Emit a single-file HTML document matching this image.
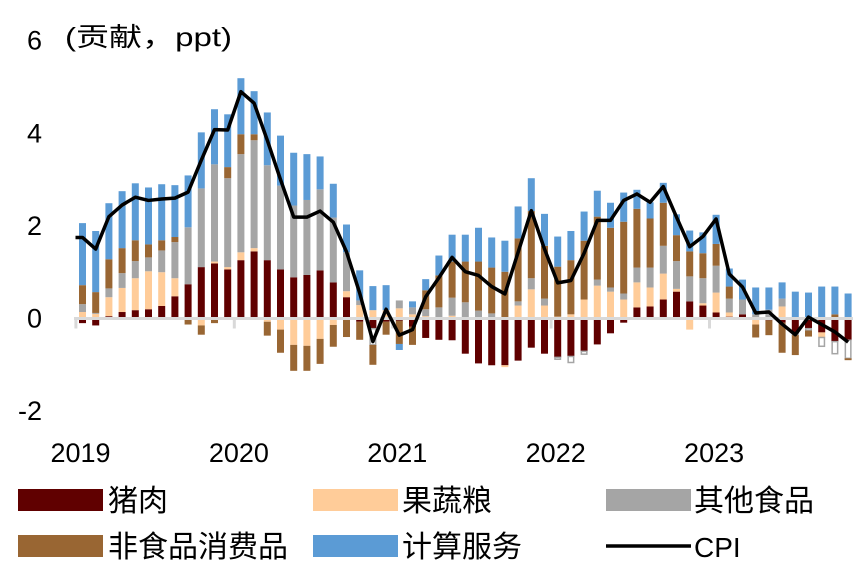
<!DOCTYPE html>
<html><head><meta charset="utf-8"><style>
body{margin:0;background:#fff;}
svg text{font-family:"Liberation Sans","Noto Sans CJK SC",sans-serif;fill:#000;}
</style></head><body>
<svg id="chart" width="865" height="577" viewBox="0 0 865 577" xmlns="http://www.w3.org/2000/svg">
<g id="bars"></g>
<g id="axes"></g>
<g id="line"></g>
<text x="65" y="46" font-size="26" textLength="167" lengthAdjust="spacingAndGlyphs">(贡献，ppt)</text>
<g>
<rect x="18" y="489" width="85" height="22" fill="#600000"/>
<text x="108" y="511" font-size="30">猪肉</text>
<rect x="313" y="489" width="85" height="22" fill="#ffcc99"/>
<text x="402" y="511" font-size="30">果蔬粮</text>
<rect x="606" y="489" width="85" height="22" fill="#a5a5a5"/>
<text x="694" y="511" font-size="30">其他食品</text>
<rect x="18" y="535" width="85" height="22" fill="#996633"/>
<text x="108" y="557" font-size="30">非食品消费品</text>
<rect x="313" y="535" width="85" height="22" fill="#5b9bd5"/>
<text x="402" y="557" font-size="30">计算服务</text>
<line x1="606" y1="546" x2="691" y2="546" stroke="#000" stroke-width="3.5"/>
<text x="694" y="557" font-size="28">CPI</text>
</g>
</svg>
<script>
const pork=[-0.1,-0.15,0.05,0.14,0.18,0.2,0.27,0.48,0.74,1.11,1.19,1.06,1.26,1.45,1.26,1.06,0.89,0.94,1.04,0.78,0.46,-0.07,-0.22,-0.07,-0.05,-0.18,-0.42,-0.46,-0.47,-0.76,-0.97,-1.01,-1.01,-0.91,-0.63,-0.76,-0.84,-0.82,-0.71,-0.56,-0.32,-0.09,0.24,0.26,0.41,0.58,0.37,0.28,0.13,0.04,0.09,0,-0.04,-0.09,-0.32,-0.22,-0.3,-0.5,-0.47];
const produce=[0.14,0.1,0.41,0.52,0.69,0.82,0.73,0.39,0,-0.15,0.04,0.05,0.17,0.07,-0.07,-0.24,-0.57,-0.59,-0.44,-0.14,0.13,0.29,0.18,0.18,0.22,0.09,0.05,0,0.06,0,0,0,-0.04,0.28,0.63,0.28,0.04,0.09,0.41,0.71,0.58,0.41,0.54,0.41,0.56,0.06,-0.24,0.05,0.43,0.09,0,-0.13,0,0.26,0,0,-0.11,0,0];
const otherFood=[0.17,0.02,0.19,0.32,0.37,0.3,0.47,0.78,1.23,1.7,2.1,1.92,2.12,2.33,2.05,1.81,1.55,1.62,1.75,1.4,0.84,0.1,-0.35,0,0.17,0.15,0.15,0.24,0.39,0.35,0.17,0.11,0,0.09,0.24,0.15,-0.04,-0.13,-0.06,0.13,0.09,0.13,0.32,0.43,0.6,0.6,0.54,0.54,0.58,0.3,0.32,0.09,0.19,0.17,-0.04,-0.04,-0.19,-0.26,-0.39];
const nonFood=[0.41,0.45,0.63,0.54,0.45,0.28,0.22,0.11,-0.13,-0.2,-0.1,0.24,0.43,0.13,-0.3,-0.5,-0.56,-0.54,-0.54,-0.47,-0.4,-0.39,-0.43,-0.28,-0.5,-0.39,0.41,0.69,0.78,0.88,1.06,0.99,1.01,1.36,1.45,1.14,1.08,1.17,1.27,1.36,1.29,1.55,1.27,1.06,0.93,0.56,0.54,0.54,0.47,0.26,-0.03,-0.28,-0.32,-0.65,-0.43,-0.13,0,0.09,-0.04];
const services=[1.34,1.32,1.21,1.23,1.23,1.23,1.21,1.12,1.12,1.21,1.19,1.14,1.21,0.93,1.14,1.08,1.14,0.99,0.71,0.73,0.6,0.65,0.52,0.54,-0.13,0.13,0.24,0.43,0.58,0.58,0.73,0.65,0.67,0.69,0.71,0.69,0.65,0.63,0.63,0.56,0.54,0.63,0.41,0.35,0.43,0.45,0.45,0.45,0.63,0.39,0.43,0.58,0.48,0.35,0.58,0.56,0.69,0.6,0.54];
const cpi=[1.75,1.5,2.2,2.45,2.62,2.55,2.58,2.6,2.73,3.42,4.08,4.07,4.9,4.65,3.85,3.0,2.19,2.19,2.32,2.08,1.44,0.55,-0.5,0.2,-0.36,-0.24,0.47,0.88,1.32,1.01,0.93,0.69,0.53,1.43,2.33,1.5,0.77,0.82,1.41,2.12,2.12,2.55,2.69,2.51,2.85,2.19,1.55,1.77,2.15,0.96,0.68,0.12,0.14,-0.12,-0.35,0.03,-0.13,-0.29,-0.51];
const yTicks=[6,4,2,0,-2];
const years=["2019","2020","2021","2022","2023"];

const NS="http://www.w3.org/2000/svg";
function yS(v){return 318.5-v*46.3;}
function xS(i){return 82.5+i*13.2;}
const BW=7;
function mk(tag,attrs,parent){const e=document.createElementNS(NS,tag);for(const k in attrs)e.setAttribute(k,attrs[k]);parent.appendChild(e);return e;}
const bars=document.getElementById('bars');
const axes=document.getElementById('axes');
const series=[[pork,'#600000','pork'],[produce,'#ffcc99','produce'],[otherFood,'#a5a5a5','other-food'],[nonFood,'#996633','nonfood'],[services,'#5b9bd5','services']];
for(let i=0;i<cpi.length;i++){
  let pos=0,neg=0;
  for(const [arr,col,nm] of series){
    const v=arr[i]; if(!v) continue;
    let y0,y1;
    if(v>0){y0=pos;y1=pos+v;pos=y1;} else {y0=neg;y1=neg+v;neg=y1;}
    const top=yS(Math.max(y0,y1)), h=Math.abs(yS(y1)-yS(y0));
    const attrs={x:xS(i)-BW/2,y:top,width:BW,height:h,fill:col};
    if(v<0&&nm==='other-food'){attrs.fill='#fff';attrs.stroke=col;attrs['stroke-width']=1.5;attrs.x=xS(i)-BW/2+0.75;attrs.width=BW-1.5;}
    const r=mk('rect',attrs,bars);
    
    
  }
}
const zl=mk('line',{x1:74,y1:yS(0),x2:853,y2:yS(0),stroke:'#d9d9d9','stroke-width':3},axes);


for(let k=0;k<years.length;k++){
  const tx=xS(k*12)-6.6;
  const t=mk('line',{x1:tx,y1:yS(0),x2:tx,y2:yS(0)+10,stroke:'#d9d9d9','stroke-width':3},axes);
  
  
  const lb=mk('text',{x:xS(k*12)-2,y:462,'font-size':27,'text-anchor':'middle'},axes);
  lb.textContent=years[k];
  
  
}
for(const v of yTicks){
  const lb=mk('text',{x:42,y:yS(v)+9,'font-size':27,'text-anchor':'end'},axes);
  lb.textContent=String(v);
  
  
}
let d='M'+(xS(0)-7)+' '+yS(cpi[0]);
for(let i=0;i<cpi.length;i++){d+=' L'+xS(i)+' '+yS(cpi[i]);}
const pl=mk('path',{d:d,fill:'none',stroke:'#000','stroke-width':3.5,'stroke-linejoin':'round'},document.getElementById('line'));


</script>
</body></html>
